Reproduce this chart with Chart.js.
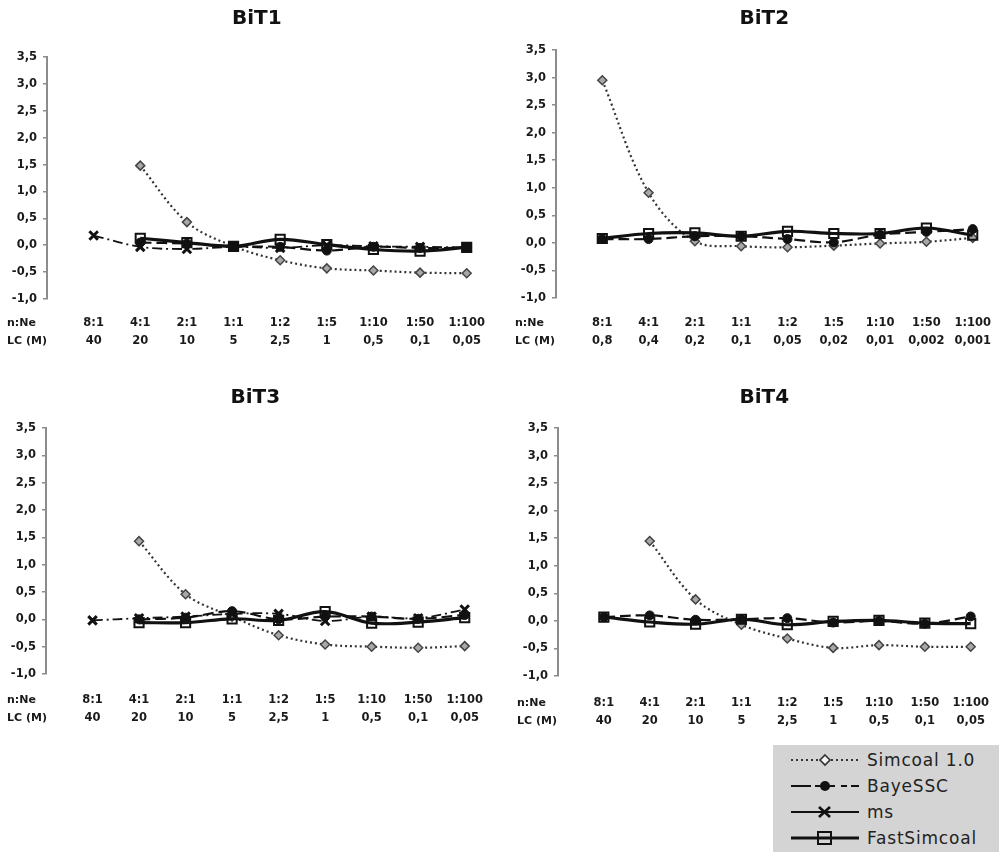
<!DOCTYPE html>
<html>
<head>
<meta charset="utf-8">
<script src="https://cdn.jsdelivr.net/npm/chart.js@4/dist/chart.umd.min.js"></script>
<style>
  html, body { margin: 0; padding: 0; background: #ffffff; }
  body { width: 1007px; height: 862px; position: relative; overflow: hidden; }
  canvas { position: absolute; }
  .rowhead { position: absolute; font: bold 11px "DejaVu Sans"; color: #1a1a1a; line-height: 14px; white-space: nowrap; }
  #legend { position: absolute; left: 773px; top: 745px; width: 226px; height: 107px; background: #d4d4d4; }
  .lg { position: absolute; left: 16px; height: 20px; display: flex; align-items: center; }
  .lg span { font: 17px "DejaVu Sans"; color: #222; letter-spacing: 0.8px; margin-left: 6px; }
</style>
</head>
<body>
<canvas id="c1" width="500" height="360" style="left:0px;top:0px"></canvas>
<canvas id="c2" width="507" height="360" style="left:500px;top:0px"></canvas>
<canvas id="c3" width="500" height="360" style="left:0px;top:380px"></canvas>
<canvas id="c4" width="507" height="360" style="left:500px;top:380px"></canvas>

<div class="rowhead" style="left:7px;top:316px">n:Ne</div>
<div class="rowhead" style="left:7px;top:334px">LC (M)</div>
<div class="rowhead" style="left:515px;top:316px">n:Ne</div>
<div class="rowhead" style="left:515px;top:334px">LC (M)</div>
<div class="rowhead" style="left:7px;top:693px">n:Ne</div>
<div class="rowhead" style="left:7px;top:711px">LC (M)</div>
<div class="rowhead" style="left:517px;top:696px">n:Ne</div>
<div class="rowhead" style="left:517px;top:714px">LC (M)</div>

<div id="legend">
  <div class="lg" style="top:5px">
    <svg width="72" height="16"><line x1="2" y1="8" x2="70" y2="8" stroke="#333" stroke-width="2" stroke-dasharray="2,3"/><polygon points="36,3 41,8 36,13 31,8" fill="#f4f4f4" stroke="#333" stroke-width="1.6"/></svg>
    <span>Simcoal 1.0</span>
  </div>
  <div class="lg" style="top:31px">
    <svg width="72" height="16"><line x1="2" y1="8" x2="70" y2="8" stroke="#111" stroke-width="2.2" stroke-dasharray="20,4,20,6,6,4"/><circle cx="36" cy="8" r="5" fill="#111"/></svg>
    <span>BayeSSC</span>
  </div>
  <div class="lg" style="top:57px">
    <svg width="72" height="16"><line x1="2" y1="8" x2="70" y2="8" stroke="#111" stroke-width="2"/><line x1="30" y1="3" x2="41" y2="13" stroke="#111" stroke-width="2.6"/><line x1="41" y1="3" x2="30" y2="13" stroke="#111" stroke-width="2.6"/></svg>
    <span>ms</span>
  </div>
  <div class="lg" style="top:83px">
    <svg width="72" height="16"><line x1="2" y1="8" x2="70" y2="8" stroke="#111" stroke-width="3"/><rect x="29" y="2" width="13" height="12" fill="none" stroke="#111" stroke-width="2"/></svg>
    <span>FastSimcoal</span>
  </div>
</div>

<script>
// ---------- category / tick labels ----------
const nNe   = ['8:1', '4:1', '2:1', '1:1', '1:2', '1:5', '1:10', '1:50', '1:100'];
const lcA   = ['40', '20', '10', '5', '2,5', '1', '0,5', '0,1', '0,05'];
const lcB   = ['0,8', '0,4', '0,2', '0,1', '0,05', '0,02', '0,01', '0,002', '0,001'];
const yTicks = [-1.0, -0.5, 0.0, 0.5, 1.0, 1.5, 2.0, 2.5, 3.0, 3.5];
const titles = ['BiT1', 'BiT2', 'BiT3', 'BiT4'];
const seriesNames = ['Simcoal 1.0', 'BayeSSC', 'ms', 'FastSimcoal'];

// ---------- series values ----------
// BiT1
const bit1Simcoal = [null, 1.48, 0.43, -0.02, -0.28, -0.43, -0.47, -0.51, -0.52];
const bit1Baye    = [null, 0.05, 0.03, -0.02, -0.03, -0.10, -0.03, -0.05, -0.05];
const bit1Ms      = [0.18, -0.03, -0.07, -0.03, -0.05, 0.00, -0.02, -0.03, -0.04];
const bit1Fast    = [null, 0.13, 0.05, -0.02, 0.11, 0.01, -0.08, -0.11, -0.04];
// BiT2
const bit2Simcoal = [2.95, 0.91, 0.03, -0.06, -0.08, -0.05, -0.01, 0.02, 0.09];
const bit2Baye    = [0.07, 0.07, 0.12, 0.12, 0.07, 0.01, 0.15, 0.20, 0.25];
const bit2Ms      = [null, null, null, null, null, null, null, null, null];
const bit2Fast    = [0.08, 0.17, 0.18, 0.12, 0.21, 0.17, 0.17, 0.27, 0.14];
// BiT3
const bit3Simcoal = [null, 1.43, 0.46, 0.05, -0.29, -0.46, -0.50, -0.52, -0.49];
const bit3Baye    = [null, 0.00, 0.03, 0.15, 0.00, 0.05, 0.05, 0.01, 0.08];
const bit3Ms      = [-0.02, 0.02, 0.05, 0.10, 0.10, -0.03, 0.05, 0.02, 0.18];
const bit3Fast    = [null, -0.06, -0.06, 0.01, -0.02, 0.14, -0.07, -0.05, 0.03];
// BiT4
const bit4Simcoal = [null, 1.45, 0.39, -0.07, -0.32, -0.49, -0.44, -0.47, -0.47];
const bit4Baye    = [0.07, 0.10, 0.02, 0.03, 0.05, -0.03, 0.00, -0.05, 0.08];
const bit4Ms      = [null, null, null, null, null, null, null, null, null];
const bit4Fast    = [0.07, -0.02, -0.06, 0.03, -0.07, -0.01, 0.01, -0.04, -0.05];

// ---------- rendering ----------
const panels = [
  { id: 'c1', title: titles[0], lc: lcA, data: [bit1Simcoal, bit1Baye, bit1Ms, bit1Fast],
    g: { yW: 47, pr: 29, tTop: 7, tBot: 26, xH: 61, xPad: 15 } },
  { id: 'c2', title: titles[1], lc: lcB, data: [bit2Simcoal, bit2Baye, bit2Ms, bit2Fast],
    g: { yW: 56, pr: 27, tTop: 7, tBot: 19, xH: 62, xPad: 16 } },
  { id: 'c3', title: titles[2], lc: lcA, data: [bit3Simcoal, bit3Baye, bit3Ms, bit3Fast],
    g: { yW: 46, pr: 27, tTop: 6, tBot: 18, xH: 66, xPad: 17 } },
  { id: 'c4', title: titles[3], lc: lcA, data: [bit4Simcoal, bit4Baye, bit4Ms, bit4Fast],
    g: { yW: 58, pr: 19, tTop: 6, tBot: 18, xH: 64, xPad: 18 } }
];

const styles = [
  { borderColor: '#333333', borderWidth: 2.2, borderDash: [2, 3], pointStyle: 'rectRot', pointRadius: 4.5,
    pointBackgroundColor: '#a8a8a8', pointBorderColor: '#444444', pointBorderWidth: 1.5 },
  { borderColor: '#111111', borderWidth: 2.2, borderDash: [11, 5], pointStyle: 'circle', pointRadius: 4.5,
    pointBackgroundColor: '#111111', pointBorderColor: '#111111', pointBorderWidth: 1 },
  { borderColor: '#111111', borderWidth: 1.8, borderDash: [10, 4, 2, 4], pointStyle: 'crossRot', pointRadius: 6,
    pointBackgroundColor: '#111111', pointBorderColor: '#111111', pointBorderWidth: 3 },
  { borderColor: '#111111', borderWidth: 3.2, borderDash: [], pointStyle: 'rect', pointRadius: 6.5,
    pointBackgroundColor: 'rgba(255,255,255,0)', pointBorderColor: '#111111', pointBorderWidth: 2 }
];

const tickFont = { family: 'DejaVu Sans', weight: 'bold', size: 11.5 };
const axisGray = '#8c8c8c';

function toPoints(arr) { return arr.map((v, i) => ({ x: i, y: v })); }

panels.forEach(p => {
  const datasets = p.data.map((arr, k) => Object.assign({
    label: seriesNames[k],
    data: toPoints(arr),
    tension: 0.35,
    spanGaps: false,
    fill: false,
    clip: false,
    order: 4 - k
  }, styles[k]));

  new Chart(document.getElementById(p.id), {
    type: 'line',
    data: { datasets },
    options: {
      responsive: false,
      animation: false,
      devicePixelRatio: 1,
      events: [],
      layout: { padding: { left: 0, right: p.g.pr, top: 0, bottom: 0 } },
      plugins: {
        legend: { display: false },
        tooltip: { enabled: false },
        title: {
          display: true, text: p.title, fullSize: false, color: '#111111',
          font: { family: 'DejaVu Sans', weight: 'bold', size: 20, lineHeight: 1.2 },
          padding: { top: p.g.tTop, bottom: p.g.tBot }
        }
      },
      scales: {
        x: {
          type: 'linear', min: -1, max: nNe.length - 1,
          grid: { display: false, drawTicks: false },
          border: { display: false },
          ticks: {
            stepSize: 1, autoSkip: false, maxRotation: 0, minRotation: 0,
            padding: p.g.xPad, color: '#1a1a1a',
            font: Object.assign({ lineHeight: 1.55 }, tickFont),
            callback: (v) => (v >= 0 && v < nNe.length && Number.isInteger(v)) ? [nNe[v], p.lc[v]] : ''
          },
          afterFit: (s) => { s.height = p.g.xH; }
        },
        y: {
          min: yTicks[0], max: yTicks[yTicks.length - 1],
          afterBuildTicks: (s) => { s.ticks = yTicks.map(v => ({ value: v })); },
          grid: { drawOnChartArea: false, drawTicks: true, tickLength: 4, color: axisGray, lineWidth: 1.5 },
          border: { display: true, color: axisGray, width: 2 },
          ticks: {
            padding: 6, color: '#1a1a1a', font: tickFont,
            callback: (v) => v.toFixed(1).replace('.', ',')
          },
          afterFit: (s) => { s.width = p.g.yW; }
        }
      }
    }
  });
});
</script>
</body>
</html>
